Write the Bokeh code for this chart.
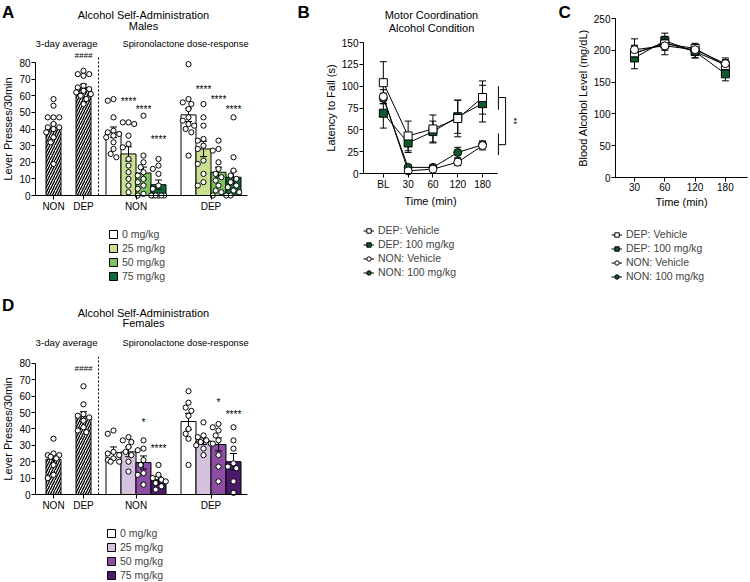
import numpy as np
from bokeh.plotting import figure
from bokeh.models import Range1d, FixedTicker, Label, Legend, LegendItem
from bokeh.layouts import row, column
from bokeh.embed import file_html
from bokeh.resources import INLINE

FONT = "Liberation Sans"

# ---------------- data ----------------
dose_labels = ["0 mg/kg", "25 mg/kg", "50 mg/kg", "75 mg/kg"]
group_labels = ["NON", "DEP"]
male_colors = ["#ffffff", "#c9e08f", "#7cc35f", "#0d6b38"]
female_colors = ["#ffffff", "#d6c1de", "#8b4ea3", "#4a1b6c"]

# Males (panel A)
male_avg_mean = [41, 65]
male_avg_sem = [2.2, 2.0]
male_avg_non_pts = [58, 54, 47, 47, 47, 43, 41, 41, 40, 38, 35, 32, 19]
male_avg_dep_pts = [75, 73, 73, 72, 66, 65, 64, 63, 62, 61, 60, 58, 55]
male_non_mean = [38, 25, 13.5, 6.5]
male_non_sem = [3.2, 4.3, 3.6, 2.8]
male_non_pts = [[58, 57, 47, 39, 38, 37, 36, 35, 32, 28, 25, 23],
                [44, 44, 43, 36, 31, 29, 22, 18, 14, 10, 6, 2],
                [48, 24, 20, 17, 14, 12, 10, 8, 6, 4, 1, 0],
                [22, 18, 16, 13, 6, 4, 0, 0, 0, 0, 0, 0]]
male_dep_mean = [48.5, 28, 14, 11]
male_dep_sem = [4.0, 4.6, 3.0, 3.6]
male_dep_pts = [[79, 58, 56, 55, 52, 47, 45, 43, 42, 40, 38, 24],
                [55, 47, 42, 34, 33, 30, 28, 21, 19, 13, 8, 6],
                [33, 28, 27, 20, 16, 13, 11, 9, 6, 3, 2, 0],
                [47, 23, 15, 12, 10, 8, 6, 5, 3, 2, 0, 0]]
male_star_text = ["****", "****", "****", "****", "****", "****"]
male_star_group = [0, 0, 0, 1, 1, 1]
male_star_dose = [1, 2, 3, 1, 2, 3]
male_star_y = [58, 53, 35, 65, 59, 53]
male_hash_y = 84

# Females (panel D)
female_avg_mean = [21.5, 47.5]
female_avg_sem = [2.5, 3.0]
female_avg_non_pts = [34, 25, 24, 24, 23, 22, 18, 12, 10]
female_avg_dep_pts = [66, 55, 49, 48, 47, 45, 41, 39, 38]
female_non_mean = [25.5, 26, 19.5, 9]
female_non_sem = [3.5, 3.0, 4.0, 2.0]
female_non_pts = [[39, 37, 26, 25, 24, 22, 21, 20, 20],
                  [35, 33, 32, 29, 26, 24, 20, 14],
                  [33, 28, 27, 21, 18, 13, 12, 6],
                  [18, 12, 10, 9, 8, 7, 5, 3]]
female_dep_mean = [44.5, 32.5, 30.5, 20]
female_dep_sem = [5.0, 2.0, 4.0, 5.0]
female_dep_pts = [[63, 56, 53, 51, 48, 40, 37, 34, 18],
                  [44, 36, 35, 33, 32, 31, 30, 28, 24],
                  [43, 41, 39, 36, 33, 31, 24, 17, 8],
                  [41, 33, 28, 19, 17, 16, 8, 1]]
female_star_text = ["*", "****", "*", "****"]
female_star_group = [0, 0, 1, 1]
female_star_dose = [2, 3, 2, 3]
female_star_y = [45, 29, 57, 50]
female_hash_y = 77

# Panel B: latency to fall (s)
b_times = ["BL", "30", "60", "120", "180"]
series_names = ["DEP: Vehicle", "DEP: 100 mg/kg", "NON: Vehicle", "NON: 100 mg/kg"]
b_dep_veh = [104, 43, 51, 63, 87]
b_dep_veh_sem = [24, 17, 16, 21, 19]
b_dep_100 = [69, 35, 48, 65, 80]
b_dep_100_sem = [17, 11, 12, 19, 21]
b_non_veh = [88, 3, 5, 13, 32]
b_non_veh_sem = [8, 2, 2, 4, 5]
b_non_100 = [86, 7, 7, 24, 33]
b_non_100_sem = [6, 2, 2, 6, 4]
b_bracket_upper = [73, 100]
b_bracket_lower = [21, 46]

# Panel C: blood alcohol level (mg/dL)
c_times = ["30", "60", "120", "180"]
c_dep_veh = [196, 210, 203, 176]
c_dep_veh_sem = [12, 10, 8, 9]
c_dep_100 = [188, 215, 198, 163]
c_dep_100_sem = [17, 12, 10, 11]
c_non_veh = [201, 207, 201, 179]
c_non_veh_sem = [17, 14, 8, 9]
c_non_100 = [195, 212, 198, 177]
c_non_100_sem = [12, 10, 10, 8]

GREEN = "#0f5a2c"


# ---------------- helpers ----------------
def make_fig(W, H, axis_px, kx, axis_x, zero_local, ky):
    """Frame covers the whole figure; axes are drawn at fixed data locations."""
    xs = axis_x - axis_px / kx
    xe = xs + W / kx
    ye = zero_local / ky
    ys = -(H - zero_local) / ky
    p = figure(width=W, height=H, x_range=Range1d(xs, xe), y_range=Range1d(ys, ye),
               min_border=0, min_border_left=0, min_border_right=0, min_border_top=0,
               min_border_bottom=0, output_backend="svg", toolbar_location=None)
    p.outline_line_color = None
    p.grid.visible = False
    p.xaxis.fixed_location = 0
    p.yaxis.fixed_location = axis_x
    for ax in p.axis:
        ax.axis_line_color = "black"
        ax.axis_line_width = 1
        ax.major_tick_line_color = "black"
        ax.major_tick_out = 4
        ax.major_tick_in = 0
        ax.minor_tick_line_color = None
        ax.major_label_text_font = FONT
        ax.major_label_text_font_size = "10px"
        ax.major_label_text_color = "black"
        ax.major_label_standoff = 1
        ax.axis_label_text_font = FONT
        ax.axis_label_text_font_size = "11px"
        ax.axis_label_text_font_style = "normal"
        ax.axis_label_text_color = "black"
        ax.axis_label_standoff = 2
    return p, xs, ye


def txt(p, x, y, text, size, align="center", baseline="middle", fstyle="normal", angle=0):
    p.add_layout(Label(x=x, y=y, text=text, text_font=FONT, text_font_size=size,
                       text_align=align, text_baseline=baseline, text_font_style=fstyle,
                       angle=angle, text_color="black"))


def swarm(vals, kx, ky, d=5.2):
    placed = []
    offs = [0.0] * len(vals)
    order = sorted(range(len(vals)), key=lambda i: -vals[i])
    cands = [0, -0.55, 0.55, -1.1, 1.1, -1.4, 1.4]
    for i in order:
        y = vals[i] * ky
        best, best_ov = 0, 1e9
        for c in cands:
            x = c * d
            md = min([np.hypot(x - px, y - py) for px, py in placed] + [1e9])
            ov = max(0.0, d - md)
            if ov < best_ov - 1e-9:
                best, best_ov = x, ov
            if ov == 0:
                break
        placed.append((best, y))
        offs[i] = best / kx
    return offs


def bar_panel(H, zero_local, ky, letter, sex, avg_mean, avg_sem, avg_non_pts, avg_dep_pts,
              non_mean, non_sem, non_pts, dep_mean, dep_sem, dep_pts, colors,
              star_text, star_group, star_dose, star_y, hash_y, text_local, legend_xy):
    W = 252
    kx = 15.0
    p, xs0, ye = make_fig(W, H, 35, kx, -1.2, zero_local, ky)
    yv = lambda loc: (zero_local - loc) / ky

    avg_x = [0, 2]
    starts = [4, 9]
    p.vbar(x=avg_x, top=avg_mean, width=1, fill_color="white", line_color="black",
           line_width=1, hatch_pattern="/", hatch_color="black", hatch_scale=5,
           hatch_weight=1.3)
    dose_r = []
    for i in range(4):
        r = p.vbar(x=[starts[0] + i, starts[1] + i], top=[non_mean[i], dep_mean[i]], width=1,
                   fill_color=colors[i], line_color="black", line_width=1)
        dose_r.append(r)

    # error bars (mean +/- SEM)
    xs = avg_x + [starts[0] + i for i in range(4)] + [starts[1] + i for i in range(4)]
    ms = list(avg_mean) + list(non_mean) + list(dep_mean)
    ss = list(avg_sem) + list(non_sem) + list(dep_sem)
    cap = 3.5 / kx
    lo = [m - s for m, s in zip(ms, ss)]
    hi = [m + s for m, s in zip(ms, ss)]
    p.segment(x0=xs, y0=lo, x1=xs, y1=hi, line_color="black", line_width=1)
    p.segment(x0=[x - cap for x in xs], y0=hi, x1=[x + cap for x in xs], y1=hi,
              line_color="black", line_width=1)
    p.segment(x0=[x - cap for x in xs], y0=lo, x1=[x + cap for x in xs], y1=lo,
              line_color="black", line_width=1)

    # individual animals
    px, py = [], []
    sets = [(avg_x[0], avg_non_pts), (avg_x[1], avg_dep_pts)]
    sets += [(starts[0] + i, non_pts[i]) for i in range(4)]
    sets += [(starts[1] + i, dep_pts[i]) for i in range(4)]
    for xc, vals in sets:
        offs = swarm(vals, kx, ky)
        px += [xc + o for o in offs]
        py += list(vals)
    p.scatter(px, py, marker="circle", size=5.2, fill_color="white", line_color="black",
              line_width=1)

    # dashed separator
    p.segment(x0=[3], y0=[0], x1=[3], y1=[84], line_color="black", line_width=1,
              line_dash="2 2")

    # significance marks
    for t, g, d, y in zip(star_text, star_group, star_dose, star_y):
        txt(p, starts[g] + d, y - 1.2, t, "10px")
    txt(p, avg_x[1], hash_y, "####", "8px", fstyle="italic")

    # titles
    t1, t2, ts, tl = text_local
    txt(p, 6.0, yv(t1), "Alcohol Self-Administration", "11px")
    txt(p, 6.0, yv(t2), sex, "11px")
    txt(p, 0.87, yv(ts), "3-day average", "9.7px")
    txt(p, 8.8, yv(ts), "Spironolactone dose-response", "9.3px")
    txt(p, xs0 + 1.5 / kx, yv(tl), letter, "17px", align="left", baseline="top", fstyle="bold")

    # axes
    p.xaxis.ticker = FixedTicker(ticks=[0, 2, 5.5, 10.5])
    p.xaxis.major_label_overrides = {0: group_labels[0], 2: group_labels[1],
                                     5.5: group_labels[0], 10.5: group_labels[1]}
    p.xaxis.bounds = (-1.2, 12.9)
    p.yaxis.ticker = FixedTicker(ticks=list(range(0, 81, 10)))
    p.yaxis.bounds = (0, 80)
    p.yaxis.axis_label = "Lever Presses/30min"

    legend = Legend(items=[LegendItem(label=dose_labels[i], renderers=[dose_r[i]]) for i in range(4)],
                    location=legend_xy, orientation="vertical", margin=0, padding=2,
                    spacing=2, glyph_height=10, glyph_width=10, label_height=11,
                    label_standoff=4, label_text_font=FONT, label_text_font_size="10.5px",
                    border_line_color=None, background_fill_alpha=0)
    p.add_layout(legend)
    return p


def line_panel(W, H, axis_px, kx, axis_x, zero_local, ky, times, means, sems, fills, markers,
               letter, letter_px, titles, title_x, ylab, y_ticks, y_bound, x_bound, legend_xy,
               bracket=None):
    p, xs0, ye = make_fig(W, H, axis_px, kx, axis_x, zero_local, ky)
    yv = lambda loc: (zero_local - loc) / ky
    xs = list(range(len(times)))
    cap = 3.5 / kx
    line_r = []
    for m, s in zip(means, sems):
        lr = p.line(xs, m, line_color="black", line_width=1)
        line_r.append(lr)
        lo = [a - b for a, b in zip(m, s)]
        hi = [a + b for a, b in zip(m, s)]
        p.segment(x0=xs, y0=lo, x1=xs, y1=hi, line_color="black", line_width=1)
        p.segment(x0=[x - cap for x in xs], y0=hi, x1=[x + cap for x in xs], y1=hi,
                  line_color="black", line_width=1)
        p.segment(x0=[x - cap for x in xs], y0=lo, x1=[x + cap for x in xs], y1=lo,
                  line_color="black", line_width=1)
    mark_r = [None] * len(means)
    for k in [1, 3, 0, 2]:
        mark_r[k] = p.scatter(xs, means[k], marker=markers[k], size=8, fill_color=fills[k],
                              line_color="black", line_width=1)

    if bracket is not None:
        up, low = bracket
        xa, xb = 4.64, 4.93
        ym_u = (up[0] + up[1]) / 2 + 0.5
        ym_l = (low[0] + low[1]) / 2 - 0.5
        p.multi_line(xs=[[xa, xa], [xa, xb], [xa, xa], [xa, xb], [xb, xb]],
                     ys=[list(up), [ym_u, ym_u], list(low), [ym_l, ym_l], [ym_l, ym_u]],
                     line_color="black", line_width=1)
        txt(p, 5.25, (ym_u + ym_l) / 2, "**", "9px", angle=-np.pi / 2)

    for t in titles:
        txt(p, title_x, yv(t[1]), t[0], "11px")
    txt(p, xs0 + letter_px / kx, yv(2), letter, "17px", align="left", baseline="top",
        fstyle="bold")

    p.xaxis.ticker = FixedTicker(ticks=xs)
    p.xaxis.major_label_overrides = {i: t for i, t in enumerate(times)}
    p.xaxis.bounds = x_bound
    p.xaxis.axis_label = "Time (min)"
    p.yaxis.ticker = FixedTicker(ticks=y_ticks)
    p.yaxis.bounds = y_bound
    p.yaxis.axis_label = ylab

    legend = Legend(items=[LegendItem(label=series_names[k], renderers=[line_r[k], mark_r[k]])
                           for k in range(4)],
                    location=legend_xy, orientation="vertical", margin=0, padding=2,
                    spacing=2, glyph_height=11, glyph_width=11, label_height=11,
                    label_standoff=4, label_text_font=FONT, label_text_font_size="10.5px",
                    border_line_color=None, background_fill_alpha=0)
    p.add_layout(legend)
    return p


# ---------------- panels ----------------
pA = bar_panel(290, 195, 1.6625, "A", "Males", male_avg_mean, male_avg_sem, male_avg_non_pts,
               male_avg_dep_pts, male_non_mean, male_non_sem, male_non_pts,
               male_dep_mean, male_dep_sem, male_dep_pts, male_colors,
               male_star_text, male_star_group, male_star_dose, male_star_y, male_hash_y,
               (14, 25, 43, 2), (108, 8))

pD = bar_panel(291, 204, 1.64, "D", "Females", female_avg_mean, female_avg_sem,
               female_avg_non_pts, female_avg_dep_pts, female_non_mean, female_non_sem,
               female_non_pts, female_dep_mean, female_dep_sem, female_dep_pts, female_colors,
               female_star_text, female_star_group, female_star_dose, female_star_y,
               female_hash_y, (22, 32, 52, 5), (106, 0))

markers = ["square", "square", "circle", "circle"]
fills = ["white", GREEN, "white", GREEN]

pB = line_panel(268, 290, 111, 24.8, -0.8, 173, 0.8733, b_times,
                [b_dep_veh, b_dep_100, b_non_veh, b_non_100],
                [b_dep_veh_sem, b_dep_100_sem, b_non_veh_sem, b_non_100_sem],
                fills, markers, "B", 45, [("Motor Coordination", 14), ("Alcohol Condition", 27)],
                1.94, "Latency to Fall (s)", [0, 25, 50, 75, 100, 125, 150], (0, 150),
                (-0.8, 4.60), (111, 12), bracket=(b_bracket_upper, b_bracket_lower))

pC = line_panel(228, 290, 95, 30.3, -0.627, 177, 0.636, c_times,
                [c_dep_veh, c_dep_100, c_non_veh, c_non_100],
                [c_dep_veh_sem, c_dep_100_sem, c_non_veh_sem, c_non_100_sem],
                fills, markers, "C", 38, [], 0, "Blood Alcohol Level (mg/dL)",
                [0, 50, 100, 150, 200, 250], (0, 250), (-0.627, 3.72), (91, 8))

layout = column(row(pA, pB, pC), row(pD))

open("out.html", "w").write(file_html(layout, INLINE))
